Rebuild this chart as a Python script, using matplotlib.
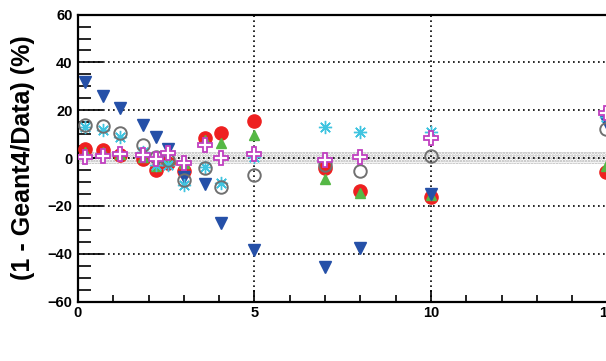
import matplotlib.pyplot as plt
from matplotlib.ticker import MultipleLocator

plt.rcParams['font.family'] = ['Liberation Sans', 'DejaVu Sans']
plt.rcParams['font.weight'] = 'bold'
plt.rcParams['hatch.linewidth'] = 1.2

# x positions of the measurements (same for every series)
x = [0.2, 0.7, 1.2, 1.85, 2.2, 2.55, 3.0, 3.6, 4.05, 5.0, 7.0, 8.0, 10.0, 14.95]

# (1 - Geant4/Data) in %, one list per series
blue_tri = [32, 26, 21, 14, 9, 4, -8, -11, -27, -38.5, -45.5, -37.5, -15, 15]
red_circ = [3.7, 3.3, 1.3, -0.5, -5, -2, -5.5, 8.2, 10.4, 15.5, -4.3, -13.7, -16.3, -6]
green_tri = [2.5, 2.5, 1.5, 0.5, -3.5, -1, -2, 7.5, 6.3, 9.6, -8.8, -14.5, -15.5, -3.5]
gray_circ = [13.8, 13.4, 10.4, 5.4, 0.4, -1, -9, -4.3, -12, -7, -3, -5.4, 0.8, 12]
cyan_ast = [13, 11.7, 8.8, 2.5, -3, -3, -11.3, -3.7, -10.4, 0.5, 13, 10.9, 11, 17]
magenta_cross = [0.5, 1, 1.5, 1.2, -0.5, 2, -2, 5.4, 0, 1.7, -0.8, 0.5, 8.4, 19]

fig = plt.figure(figsize=(6.06, 3.61), dpi=100)
ax = fig.add_axes([0.1287, 0.1648, 0.8738, 0.7947])

ax.set_xlim(0, 15)
ax.set_ylim(-60, 60)

# band around zero
ax.axhspan(-2.5, 2.5, facecolor='none', edgecolor='#b4b4b4', hatch='......', lw=0, zorder=1)

for v in [5, 10]:
    ax.axvline(v, color='black', lw=1.2, ls=(0, (1, 2)), zorder=1.5)
for v in [-40, -20, 0, 20, 40]:
    ax.axhline(v, color='black', lw=1.2, ls=(0, (1, 2)), zorder=1.5)

ax.plot(x, red_circ, 'o', color='#ee2020', ms=9.5, mec='#ee2020', zorder=3)
ax.plot(x, green_tri, '^', color='#55b845', ms=7.5, mec='#55b845', zorder=3.1)
ax.plot(x, blue_tri, 'v', color='#2550a8', ms=8.5, mec='#2550a8', zorder=3.2)
ax.plot(x, cyan_ast, ls='none', marker=(8, 2, 0), color='#40c4e0', ms=9.5, mew=1.0, zorder=3.3)
ax.plot(x, gray_circ, 'o', mfc='none', mec='#707070', ms=9, mew=1.4, zorder=3.4)
ax.plot(x, magenta_cross, 'P', mfc='white', mec='#c040c0', ms=9.5, mew=1.3, zorder=3.5)

ax.xaxis.set_major_locator(MultipleLocator(5))
ax.xaxis.set_minor_locator(MultipleLocator(1))
ax.yaxis.set_major_locator(MultipleLocator(20))
ax.yaxis.set_minor_locator(MultipleLocator(5))

ax.tick_params(axis='both', which='both', direction='in', labelsize=10.5, width=1.2)
ax.tick_params(axis='y', which='major', length=18, pad=4)
ax.tick_params(axis='y', which='minor', length=9)
ax.tick_params(axis='x', which='major', length=9, pad=3)
ax.tick_params(axis='x', which='minor', length=5)

for s in ax.spines.values():
    s.set_linewidth(1.6)

ax.set_ylabel('(1 - Geant4/Data) (%)', fontsize=18, fontweight='bold', va='center')
ax.yaxis.set_label_coords((23 - 78) / 529.5, 0.5)

fig.savefig('out.png', dpi=100)
